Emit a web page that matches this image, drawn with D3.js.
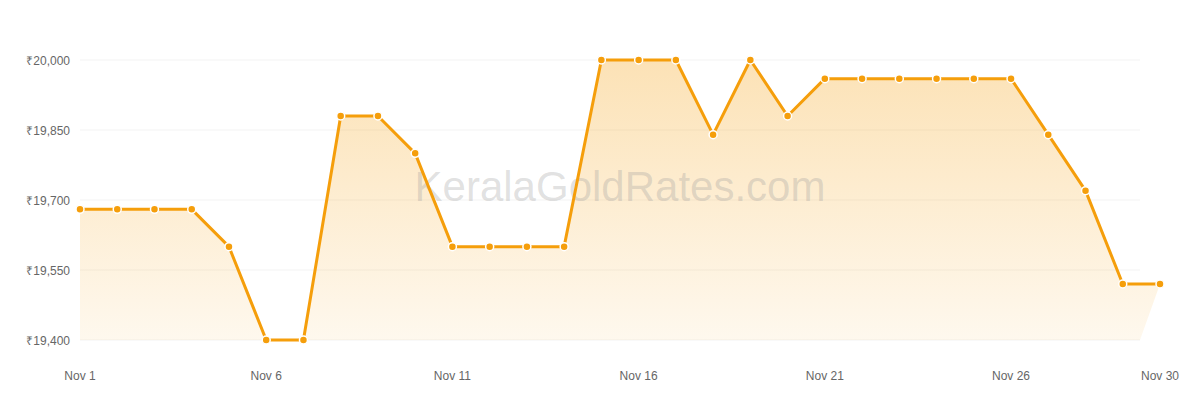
<!DOCTYPE html>
<html lang="en">
<head>
<meta charset="UTF-8">
<title>Gold rate - November</title>
<script src="https://d3js.org/d3.v7.min.js"></script>
<style>
    body { margin: 0; background: #fff; }
    svg text { font-family: "Liberation Sans", Arial, sans-serif; }
</style>
</head>
<body>
<div id="chart"></div>
<script>
    const days = d3.range(1, 31);
    const prices = [
        19680, 19680, 19680, 19680, 19600, 19400, 19400, 19880, 19880, 19800,
        19600, 19600, 19600, 19600, 20000, 20000, 20000, 19840, 20000, 19880,
        19960, 19960, 19960, 19960, 19960, 19960, 19840, 19720, 19520, 19520
    ];
    const yTicks = [19400, 19550, 19700, 19850, 20000];
    const xTicks = [1, 6, 11, 16, 21, 26, 30];

    const width = 1200, height = 400;
    const gridLeft = 80, gridRight = 1140;

    const svg = d3.select("#chart").append("svg")
        .attr("width", width)
        .attr("height", height);

    const x = d3.scaleLinear().domain([1, 30]).range([80, 1160]);
    const y = d3.scaleLinear().domain([19400, 20000]).range([340, 60]);

    const data = days.map((d, i) => ({ day: d, price: prices[i] }));

    // gridlines
    svg.append("g")
        .selectAll("line")
        .data(yTicks)
        .join("line")
        .attr("x1", gridLeft)
        .attr("x2", gridRight)
        .attr("y1", d => y(d))
        .attr("y2", d => y(d))
        .attr("stroke", "#f3f3f3")
        .attr("stroke-width", 1);

    // y labels
    svg.append("g")
        .selectAll("text")
        .data(yTicks)
        .join("text")
        .attr("x", 70)
        .attr("y", d => y(d) + 1)
        .attr("dy", "0.35em")
        .attr("text-anchor", "end")
        .attr("font-size", 12)
        .attr("fill", "#666")
        .text(d => "₹" + d3.format(",")(d));

    // x labels
    svg.append("g")
        .selectAll("text")
        .data(xTicks)
        .join("text")
        .attr("x", d => x(d))
        .attr("y", 380)
        .attr("text-anchor", "middle")
        .attr("font-size", 12)
        .attr("fill", "#666")
        .text(d => "Nov " + d);

    // gradient
    const grad = svg.append("defs").append("linearGradient")
        .attr("id", "fillGrad")
        .attr("gradientUnits", "userSpaceOnUse")
        .attr("x1", 0).attr("x2", 0)
        .attr("y1", y(20000)).attr("y2", y(19400));
    grad.append("stop").attr("offset", "0%").attr("stop-color", "#f59e0b").attr("stop-opacity", 0.3);
    grad.append("stop").attr("offset", "100%").attr("stop-color", "#f59e0b").attr("stop-opacity", 0.07);

    // area: top follows the line, bottom stops at the grid's right edge
    const line = d3.line().x(d => x(d.day)).y(d => y(d.price));
    const areaPath = line(data) +
        "L" + gridRight + "," + y(19400) +
        "L" + x(1) + "," + y(19400) + "Z";

    svg.append("path")
        .attr("d", areaPath)
        .attr("fill", "url(#fillGrad)");

    // watermark
    svg.append("text")
        .attr("x", 620)
        .attr("y", 186)
        .attr("dy", "0.35em")
        .attr("text-anchor", "middle")
        .attr("font-size", 42)
        .attr("fill", "#999")
        .attr("fill-opacity", 0.3)
        .text("KeralaGoldRates.com");

    svg.append("path")
        .datum(data)
        .attr("d", line)
        .attr("fill", "none")
        .attr("stroke", "#f59e0b")
        .attr("stroke-width", 3)
        .attr("stroke-linejoin", "round");

    svg.append("g")
        .selectAll("circle")
        .data(data)
        .join("circle")
        .attr("cx", d => x(d.day))
        .attr("cy", d => y(d.price))
        .attr("r", 4)
        .attr("fill", "#f59e0b")
        .attr("stroke", "#fff")
        .attr("stroke-width", 1.5);
</script>
</body>
</html>
